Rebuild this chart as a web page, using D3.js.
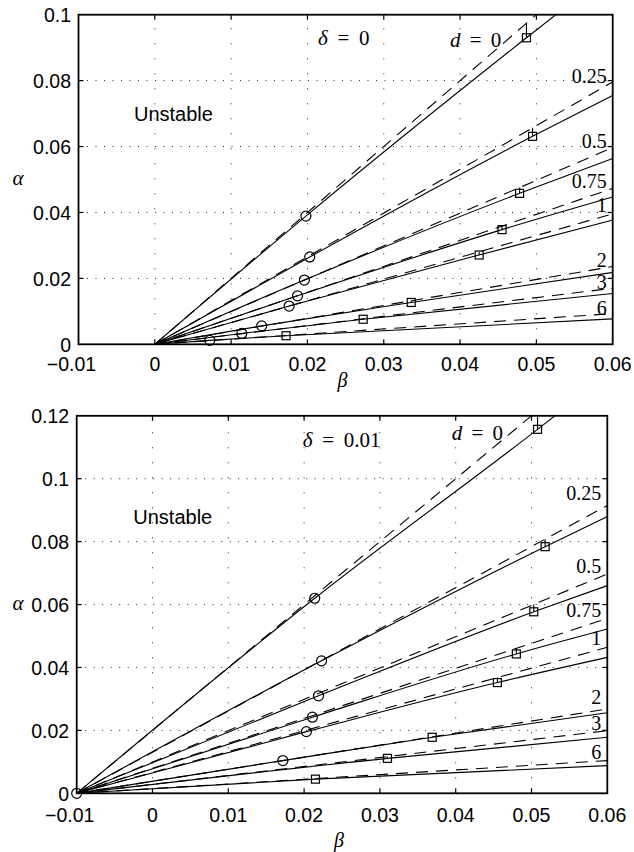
<!DOCTYPE html>
<html><head><meta charset="utf-8">
<script src="https://cdn.jsdelivr.net/npm/d3@7"></script>
<style>body{margin:0;background:#fff}</style>
</head><body>
<svg id="c" width="634" height="852" xmlns="http://www.w3.org/2000/svg"></svg>
<script>
// ---------- data ----------
const dLabels = ["0","0.25","0.5","0.75","1","2","3","6"];
const xTickValues = [-0.01,0,0.01,0.02,0.03,0.04,0.05,0.06];
const xTickLabels = ["\u22120.01","0","0.01","0.02","0.03","0.04","0.05","0.06"];
const yTicksTop = [0,0.02,0.04,0.06,0.08,0.1];
const yTickLabelsTop = ["0","0.02","0.04","0.06","0.08","0.1"];
const yTicksBottom = [0,0.02,0.04,0.06,0.08,0.1,0.12];
const yTickLabelsBottom = ["0","0.02","0.04","0.06","0.08","0.1","0.12"];

// delta = 0 panel
const topOrigin = [0, 0];
const topCircles = [[0.0198,0.0389],[0.0203,0.0265],[0.0196,0.0195],[0.0187,0.0147],[0.0176,0.0116],[0.0140,0.0056],[0.0114,0.0033],[0.0072,0.0012]];
const topSquares = [[0.0487,0.0930],[0.0495,0.0631],[0.0478,0.0458],[0.0455,0.0348],[0.0425,0.0271],[0.0336,0.0127],[0.0273,0.0076],[0.0172,0.0026]];
const topSolidEnd = [0.1135,0.0755,0.0564,0.0447,0.0377,0.0218,0.0154,0.0077];
const topDashedEnd = [0.1200,0.0796,0.0597,0.0473,0.0396,0.0236,0.0170,0.0093];
const topLabelAlpha = [null,0.0792,0.0595,0.0474,0.0401,0.0234,0.0168,0.0089];

// delta = 0.01 panel
const botOrigin = [-0.01, 0];
const botCircles = [[0.0214,0.0620],[0.0223,0.0421],[0.0219,0.0310],[0.0211,0.0242],[0.0203,0.0196],[0.0172,0.0104],null,null];
const botSquares = [[0.0508,0.1157],[0.0518,0.0784],[0.0503,0.0577],[0.0480,0.0443],[0.0455,0.0352],[0.0369,0.0178],[0.0310,0.0111],[0.0215,0.0045]];
const botSolidEnd = [0.1330,0.0880,0.0660,0.0522,0.0432,0.0256,0.0178,0.0088];
const botDashedEnd = [0.1400,0.0915,0.0697,0.0556,0.0464,0.0268,0.0199,0.0104];
const botLabelAlpha = [null,0.0932,0.0699,0.0561,0.0471,0.0284,0.0201,0.0108];

const betaMax = 0.06;

// ---------- drawing ----------
const svg = d3.select("#c");
const SERIF = "'Liberation Serif','DejaVu Serif',serif";
const SANS = "'Liberation Sans',Arial,Helvetica,sans-serif";

function drawPanel(p, idx) {
  const x = d3.scaleLinear().domain([-0.01, 0.06]).range([p.left, p.right]);
  const y = d3.scaleLinear().domain([0, p.yMax]).range([p.bottom, p.top]);
  const g = svg.append("g");
  const clipId = "clip" + idx;
  g.append("clipPath").attr("id", clipId).append("rect")
    .attr("x", p.left).attr("y", p.top)
    .attr("width", p.right - p.left).attr("height", p.bottom - p.top);

  // grid
  const grid = g.append("g").attr("stroke", "#222").attr("stroke-width", 1);
  xTickValues.slice(1, -1).forEach(v => {
    grid.append("line").attr("x1", x(v)).attr("x2", x(v))
      .attr("y1", p.bottom).attr("y2", p.top)
      .attr("stroke-dasharray", "1,14");
  });
  p.yTicks.slice(1, -1).forEach(v => {
    grid.append("line").attr("y1", y(v)).attr("y2", y(v))
      .attr("x1", p.left).attr("x2", p.right)
      .attr("stroke-dasharray", "1,7.5");
  });

  const lines = g.append("g").attr("clip-path", `url(#${clipId})`)
    .attr("fill", "none").attr("stroke", "#000").attr("stroke-width", 1.1);
  const solidLine = d3.line().x(d => x(d[0])).y(d => y(d[1])).curve(d3.curveMonotoneX);
  const straight = d3.line().x(d => x(d[0])).y(d => y(d[1]));

  dLabels.forEach((lab, i) => {
    const o = p.origin;
    // dashed linear approximation
    lines.append("path")
      .attr("d", straight([o, [betaMax, p.dashedEnd[i]]]))
      .attr("stroke-dasharray", "12,8");
    // solid curve
    const pts = [o];
    if (p.circles[i]) pts.push(p.circles[i]);
    pts.push(p.squares[i]);
    pts.push([betaMax, p.solidEnd[i]]);
    lines.append("path").attr("d", solidLine(pts));
    // small vertical marker between dashed line and square
    const sq = p.squares[i];
    const dashedAt = (sq[0] - o[0]) / (betaMax - o[0]) * p.dashedEnd[i];
    lines.append("line")
      .attr("x1", x(sq[0])).attr("x2", x(sq[0]))
      .attr("y1", y(dashedAt)).attr("y2", y(sq[1]));
  });

  // markers
  const mk = g.append("g").attr("fill", "none").attr("stroke", "#000").attr("stroke-width", 1.2);
  p.circles.forEach(c => {
    if (!c) return;
    mk.append("circle").attr("cx", x(c[0])).attr("cy", y(c[1])).attr("r", 5);
  });
  if (p.originCircle) {
    mk.append("circle").attr("cx", x(p.origin[0])).attr("cy", y(p.origin[1])).attr("r", 5);
  }
  p.squares.forEach(s => {
    mk.append("rect").attr("x", x(s[0]) - 4).attr("y", y(s[1]) - 4)
      .attr("width", 8).attr("height", 8);
  });

  // axis box and ticks
  const ax = g.append("g").attr("stroke", "#000").attr("fill", "none");
  ax.append("rect").attr("x", p.left).attr("y", p.top)
    .attr("width", p.right - p.left).attr("height", p.bottom - p.top)
    .attr("stroke-width", 1.8);
  const tl = 5;
  xTickValues.slice(1, -1).forEach(v => {
    ax.append("line").attr("x1", x(v)).attr("x2", x(v)).attr("y1", p.bottom).attr("y2", p.bottom - tl).attr("stroke-width", 1.2);
    ax.append("line").attr("x1", x(v)).attr("x2", x(v)).attr("y1", p.top).attr("y2", p.top + tl).attr("stroke-width", 1.2);
  });
  p.yTicks.slice(1, -1).forEach(v => {
    ax.append("line").attr("y1", y(v)).attr("y2", y(v)).attr("x1", p.left).attr("x2", p.left + tl).attr("stroke-width", 1.2);
    ax.append("line").attr("y1", y(v)).attr("y2", y(v)).attr("x1", p.right).attr("x2", p.right - tl).attr("stroke-width", 1.2);
  });

  // tick labels
  const tg = g.append("g").attr("font-family", SANS).attr("font-size", 19.5).attr("fill", "#000");
  xTickValues.forEach((v, i) => {
    tg.append("text").attr("x", x(v) + (v < 0 ? -7 : 0)).attr("y", p.bottom + p.xLabelDy)
      .attr("text-anchor", "middle").text(xTickLabels[i]);
  });
  p.yTicks.forEach((v, i) => {
    tg.append("text").attr("x", p.left - 7.5).attr("y", y(v) + 7.2)
      .attr("text-anchor", "end").text(p.yTickLabels[i]);
  });

  // axis labels
  g.append("text").attr("x", 18).attr("y", (p.top + p.bottom) / 2 + 5)
    .attr("text-anchor", "middle").attr("font-family", SERIF).attr("font-style", "italic")
    .attr("font-size", 21).text("\u03b1");
  g.append("text").attr("x", (p.left + p.right) / 2 - 3).attr("y", p.bottom + p.betaDy)
    .attr("text-anchor", "middle").attr("font-family", SERIF).attr("font-style", "italic")
    .attr("font-size", 20).text("\u03b2");

  // Unstable
  g.append("text").attr("x", p.unstable[0]).attr("y", p.unstable[1])
    .attr("font-family", SANS).attr("font-size", 20).text("Unstable");

  // delta label
  const dt = g.append("text").attr("x", p.deltaPos[0]).attr("y", p.deltaPos[1])
    .attr("font-family", SERIF).attr("font-size", 21).attr("word-spacing", 4.5)
    .attr("xml:space", "preserve");
  dt.append("tspan").attr("font-style", "italic").text("\u03b4");
  dt.append("tspan").text(" = " + p.deltaText);

  // d = 0 label
  const d0 = g.append("text").attr("x", p.d0Pos[0]).attr("y", p.d0Pos[1])
    .attr("font-family", SERIF).attr("font-size", 21).attr("word-spacing", 4);
  d0.append("tspan").attr("font-style", "italic").text("d");
  d0.append("tspan").text(" = " + dLabels[0]);

  // right labels
  dLabels.forEach((lab, i) => {
    if (p.labelAlpha[i] == null) return;
    g.append("text").attr("x", p.right - 6).attr("y", y(p.labelAlpha[i]))
      .attr("text-anchor", "end").attr("font-family", SERIF).attr("font-size", 20)
      .text(lab);
  });
}

drawPanel({
  left: 78.5, right: 612.7, top: 14.7, bottom: 344.3, yMax: 0.1,
  yTicks: yTicksTop, yTickLabels: yTickLabelsTop,
  origin: topOrigin, originCircle: false,
  circles: topCircles, squares: topSquares,
  solidEnd: topSolidEnd, dashedEnd: topDashedEnd, labelAlpha: topLabelAlpha,
  xLabelDy: 27, betaDy: 43,
  unstable: [134, 120.7], deltaPos: [318, 45], deltaText: "0", d0Pos: [450, 47]
}, 0);

drawPanel({
  left: 76.7, right: 607.3, top: 415.8, bottom: 793.3, yMax: 0.12,
  yTicks: yTicksBottom, yTickLabels: yTickLabelsBottom,
  origin: botOrigin, originCircle: true,
  circles: botCircles, squares: botSquares,
  solidEnd: botSolidEnd, dashedEnd: botDashedEnd, labelAlpha: botLabelAlpha,
  xLabelDy: 28.5, betaDy: 54,
  unstable: [133.3, 524], deltaPos: [302.7, 446.7], deltaText: "0.01", d0Pos: [451.7, 440]
}, 1);
</script>
</body></html>
